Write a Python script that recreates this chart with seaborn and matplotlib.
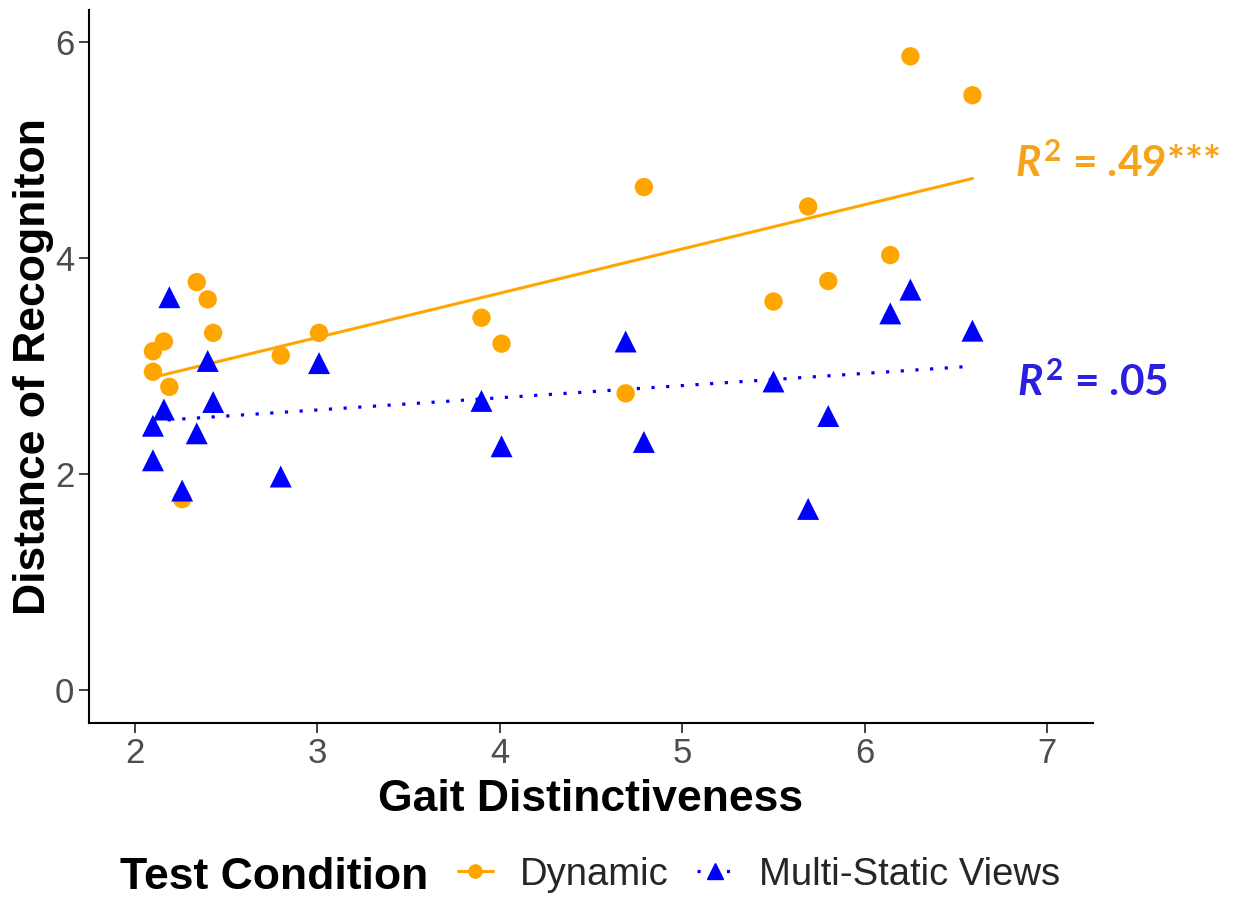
import numpy as np
import pandas as pd
import matplotlib
matplotlib.use("Agg")
import matplotlib.pyplot as plt
from matplotlib.lines import Line2D
import seaborn as sns

# ---- data ----
gait_x = [2.10, 2.10, 2.16, 2.19, 2.26, 2.34, 2.40, 2.43, 2.80, 3.01,
          3.90, 4.01, 4.69, 4.79, 5.50, 5.69, 5.80, 6.14, 6.25, 6.59]
dynamic_y = [3.14, 2.95, 3.23, 2.81, 1.77, 3.78, 3.62, 3.31, 3.10, 3.31,
             3.45, 3.21, 2.75, 4.66, 3.60, 4.48, 3.79, 4.03, 5.87, 5.51]
multistatic_y = [2.45, 2.13, 2.60, 3.64, 1.85, 2.38, 3.05, 2.67, 1.98, 3.03,
                 2.68, 2.26, 3.23, 2.30, 2.86, 1.68, 2.54, 3.49, 3.71, 3.33]
conditions = ["Dynamic", "Multi-Static Views"]
x_ticks = [2, 3, 4, 5, 6, 7]
y_ticks = [0, 2, 4, 6]
r2_labels = [" = .49***", " = .05"]

df = pd.DataFrame({
    "Gait": gait_x + gait_x,
    "Distance": dynamic_y + multistatic_y,
    "Condition": [conditions[0]] * len(gait_x) + [conditions[1]] * len(gait_x),
})
dyn = df[df.Condition == conditions[0]]
mst = df[df.Condition == conditions[1]]

ORANGE = "#FFA500"
BLUE = "#0000FF"

sns.set_theme(style="white")
plt.rcParams["font.family"] = ["Liberation Sans", "DejaVu Sans"]
plt.rcParams["mathtext.fontset"] = "custom"
plt.rcParams["mathtext.it"] = "Lato:italic:bold"
plt.rcParams["mathtext.rm"] = "Lato:bold"
plt.rcParams["mathtext.bf"] = "Lato:bold"

fig = plt.figure(figsize=(12.37, 8.99), dpi=100)
ax = fig.add_axes([0.072, 0.196, 0.8115, 0.793])

sns.scatterplot(data=dyn, x="Gait", y="Distance", color=ORANGE, marker="o", s=175,
                edgecolor="none", legend=False, ax=ax, zorder=3)
sns.scatterplot(data=mst, x="Gait", y="Distance", color=BLUE, marker="^", s=250,
                edgecolor="none", legend=False, ax=ax, zorder=3)
sns.regplot(data=dyn, x="Gait", y="Distance", scatter=False,
            ci=None, color=ORANGE, line_kws={"lw": 2.2, "zorder": 2}, ax=ax)
sns.regplot(data=mst, x="Gait", y="Distance",
            scatter=False, ci=None, color=BLUE,
            line_kws={"lw": 2.3, "ls": (0, (1, 3.6)), "zorder": 2}, ax=ax)

ax.set_xlim(1.75, 7.25)
ax.set_ylim(-0.3, 6.3)
ax.set_xticks(x_ticks)
ax.set_yticks(y_ticks)
ax.tick_params(axis="both", labelsize=25, labelcolor="#4D4D4D", color="#333333",
               length=7, width=1.3, direction="out", bottom=True, left=True)
for s in ["top", "right"]:
    ax.spines[s].set_visible(False)
for s in ["left", "bottom"]:
    ax.spines[s].set_color("black")
    ax.spines[s].set_linewidth(1.5)
ax.set_xlabel("Gait Distinctiveness", fontsize=32, fontweight="bold", color="black", labelpad=6)
ax.set_ylabel("Distance of Recogniton", fontsize=32, fontweight="bold", color="black", labelpad=1)
ax.grid(False)

# R^2 annotations
ax.text(6.825, 4.88, r"$R^2$" + r2_labels[0], color="#F7A21B", fontsize=30.5,
        fontweight="bold", family="Lato", va="center", ha="left", clip_on=False)
ax.text(6.835, 2.86, r"$R^2$" + r2_labels[1], color="#2B1FE0", fontsize=30.5,
        fontweight="bold", family="Lato", va="center", ha="left", clip_on=False)

# legend
fig.text(0.097, 0.0115, "Test Condition", fontsize=32, fontweight="bold", color="black",
         va="baseline", ha="left")
handles = [
    Line2D([], [], color=ORANGE, marker="o", ms=9.5, lw=2.2, ls="-"),
    Line2D([], [], color=BLUE, marker="^", ms=11, lw=2.3, ls=(0, (1, 3.6))),
]
fig.legend(handles, conditions, loc="center left", bbox_to_anchor=(0.370, 0.027),
           ncol=2, frameon=False, fontsize=27.5, handlelength=0.92, handletextpad=0.7,
           columnspacing=0.76, borderpad=0, borderaxespad=0)

fig.savefig("out.png", dpi=100)
